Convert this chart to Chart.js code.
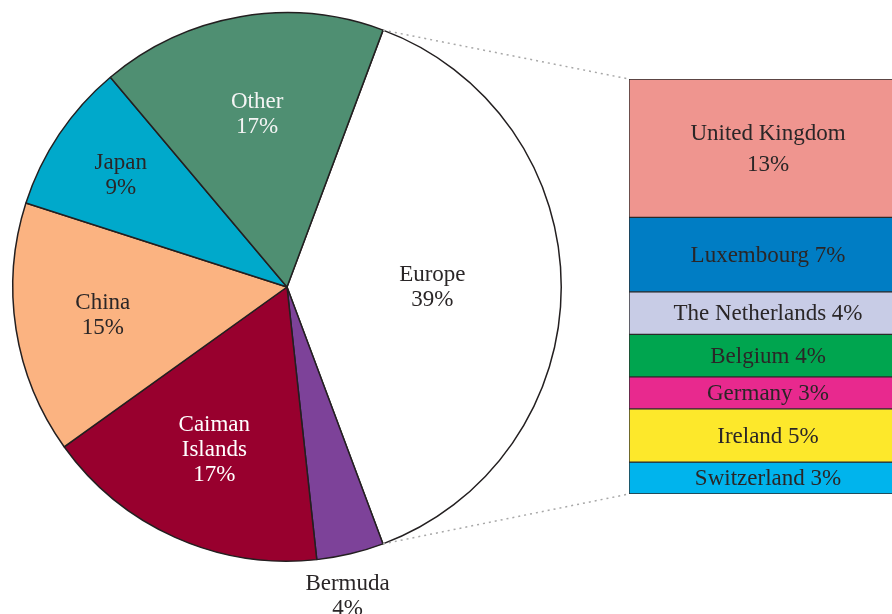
<!DOCTYPE html>
<html>
<head>
<meta charset="utf-8">
<script src="https://cdn.jsdelivr.net/npm/chart.js@4.4.1/dist/chart.umd.min.js"></script>
<style>
  html, body { margin: 0; padding: 0; background: #fff; overflow: hidden; }
  #wrap { position: relative; width: 892px; height: 614px; overflow: hidden; }
  #pie { position: absolute; left: 0; top: 0; }
  #bar { position: absolute; left: 629px; top: 79px; }
</style>
</head>
<body>
<div id="wrap">
  <canvas id="pie" width="892" height="614"></canvas>
  <canvas id="bar" width="278" height="415"></canvas>
</div>
<script>
// pie: regions (share of total, %)
var pieNames = ['Europe', 'Bermuda', 'Caiman\nIslands', 'China', 'Japan', 'Other'];
var pieValues = [39, 4, 17, 15, 9, 17];

// bar: breakdown of Europe (%)
var barNames = ['United Kingdom', 'Luxembourg', 'The Netherlands', 'Belgium', 'Germany', 'Ireland', 'Switzerland'];
var barValues = [13, 7, 4, 4, 3, 5, 3];

var pieColors = ['#ffffff', '#7d4299', '#98002e', '#fbb381', '#00a9cb', '#4f8f72'];
var pieTextColors = ['#2a2627', '#2a2627', '#ffffff', '#2a2627', '#2a2627', '#f4f4f4'];
var pieLabelRadius = [0.53, 1.15, 0.65, 0.68, 0.73, 0.64]; // fraction of radius
var pieLabelTurn = [0, 0.04, 0, 0, 0, 0]; // small angular nudge (rad)
var barColors = ['#ef958f', '#007dc4', '#c8cce6', '#00a54f', '#e8298e', '#fde82b', '#00b4ed'];

var FONT = '23px "Liberation Serif", "DejaVu Serif", serif';
var INK = '#2a2627';

function drawLines(ctx, lines, x, y, lh) {
	var top = y - (lines.length - 1) * lh / 2;
	lines.forEach(function (t, i) {
		ctx.fillText(t, x, top + i * lh);
	});
}

var barLabelPlugin = {
	id: 'barLabels',
	afterDatasetsDraw: function (chart) {
		var ctx = chart.ctx;
		ctx.save();
		ctx.font = FONT;
		ctx.fillStyle = INK;
		ctx.textAlign = 'center';
		ctx.textBaseline = 'middle';
		chart.data.datasets.forEach(function (ds, i) {
			var el = chart.getDatasetMeta(i).data[0];
			var v = ds.data[0];
			// tall segments get the value on its own line
			var lines = v >= 10 ? [ds.label, v + '%'] : [ds.label + ' ' + v + '%'];
			drawLines(ctx, lines, el.x, (el.y + el.base) / 2 + 1, 31);
		});
		ctx.restore();
	}
};

var barChart = new Chart(document.getElementById('bar'), {
	type: 'bar',
	data: {
		labels: ['Europe'],
		datasets: barNames.map(function (n, i) {
			return {
				label: n,
				data: [barValues[i]],
				backgroundColor: barColors[i],
				borderColor: '#2b2b2b',
				borderWidth: 1,
				borderSkipped: false,
				barPercentage: 1,
				categoryPercentage: 1
			};
		})
	},
	options: {
		responsive: false,
		devicePixelRatio: 1,
		animation: false,
		layout: { padding: 0 },
		plugins: { legend: { display: false }, tooltip: { enabled: false } },
		scales: {
			x: { display: false, stacked: true },
			y: {
				display: false, stacked: true, reverse: true, min: 0,
				max: barValues.reduce(function (a, b) { return a + b; }, 0)
			}
		}
	},
	plugins: [barLabelPlugin]
});

var pieExtras = {
	id: 'pieExtras',
	afterDatasetsDraw: function (chart) {
		var ctx = chart.ctx;
		var arcs = chart.getDatasetMeta(0).data;

		// dotted connectors from the Europe slice to the bar
		var eu = arcs[0];
		var barEl = barChart.getDatasetMeta(0).data[0];
		var bc = barChart.canvas;
		var bx = bc.offsetLeft + barEl.x - barEl.width / 2;
		var yTop = bc.offsetTop + barChart.scales.y.getPixelForValue(barChart.scales.y.min);
		var yBot = bc.offsetTop + barChart.scales.y.getPixelForValue(barChart.scales.y.max);
		ctx.save();
		ctx.strokeStyle = '#a8a8a8';
		ctx.lineWidth = 1.5;
		ctx.setLineDash([2, 4]);
		ctx.beginPath();
		ctx.moveTo(eu.x + eu.outerRadius * Math.cos(eu.startAngle), eu.y + eu.outerRadius * Math.sin(eu.startAngle));
		ctx.lineTo(bx, yTop);
		ctx.moveTo(eu.x + eu.outerRadius * Math.cos(eu.endAngle), eu.y + eu.outerRadius * Math.sin(eu.endAngle));
		ctx.lineTo(bx, yBot);
		ctx.stroke();
		ctx.restore();

		// slice labels
		ctx.save();
		ctx.font = FONT;
		ctx.textAlign = 'center';
		ctx.textBaseline = 'middle';
		arcs.forEach(function (a, i) {
			var mid = (a.startAngle + a.endAngle) / 2 + pieLabelTurn[i];
			var r = a.outerRadius * pieLabelRadius[i];
			var lines = pieNames[i].split('\n').concat(pieValues[i] + '%');
			ctx.fillStyle = pieTextColors[i];
			drawLines(ctx, lines, a.x + r * Math.cos(mid), a.y + r * Math.sin(mid), 25);
		});
		ctx.restore();
	}
};

new Chart(document.getElementById('pie'), {
	type: 'pie',
	data: {
		labels: pieNames,
		datasets: [{
			data: pieValues,
			backgroundColor: pieColors,
			borderColor: '#231f20',
			borderWidth: 1.5
		}]
	},
	options: {
		responsive: false,
		devicePixelRatio: 1,
		animation: false,
		rotation: 20.5,
		layout: { padding: { left: 12, top: 12, right: 330, bottom: 52 } },
		plugins: { legend: { display: false }, tooltip: { enabled: false } }
	},
	plugins: [pieExtras]
});
</script>
</body>
</html>
